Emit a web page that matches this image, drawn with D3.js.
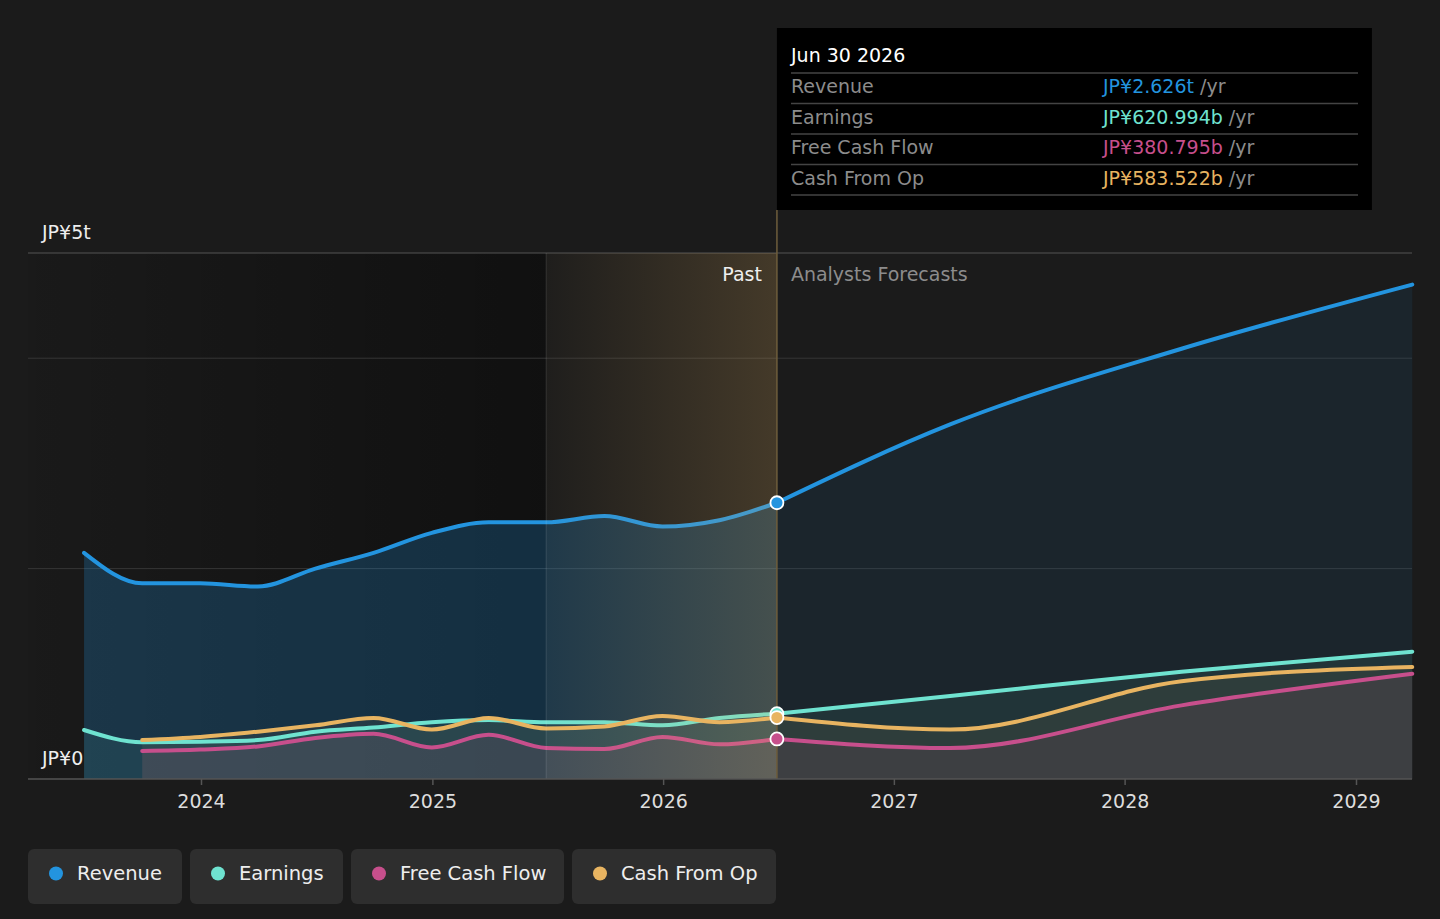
<!DOCTYPE html>
<html>
<head>
<meta charset="utf-8">
<script src="https://cdn.jsdelivr.net/npm/d3@7"></script>
<style>
  html, body { margin: 0; padding: 0; background: #1b1b1b; }
  svg { display: block; font-family: "DejaVu Sans", sans-serif; }
</style>
</head>
<body>
<div id="vis"></div>
<script>
// quarter ends for reported figures, year ends (Mar) for forecasts
var pastDates = ["2023-06-30", "2023-09-30", "2023-12-31", "2024-03-31", "2024-06-30", "2024-09-30",
                 "2024-12-31", "2025-03-31", "2025-06-30", "2025-09-30", "2025-12-31", "2026-03-31", "2026-06-30"];
var forecastDates = ["2026-06-30", "2027-03-31", "2028-03-31", "2029-03-31"];

// values in JP¥ trillions
var revenuePast = [2.15, 1.86, 1.86, 1.83, 2.00, 2.15, 2.34, 2.44, 2.44, 2.50, 2.40, 2.46, 2.626];
var revenueForecast = [2.626, 3.37, 4.09, 4.70];
var earningsPast = [0.466, 0.35, 0.355, 0.37, 0.45, 0.49, 0.54, 0.56, 0.54, 0.54, 0.51, 0.58, 0.621];
var earningsForecast = [0.621, 0.79, 1.02, 1.21];
// free cash flow / cash from op start one quarter later
var fcfPast = [0.266, 0.28, 0.31, 0.39, 0.43, 0.30, 0.42, 0.295, 0.285, 0.40, 0.33, 0.381];
var fcfForecast = [0.381, 0.295, 0.70, 1.0];
var cfoPast = [0.37, 0.40, 0.45, 0.51, 0.58, 0.47, 0.58, 0.48, 0.50, 0.60, 0.54, 0.584];
var cfoForecast = [0.584, 0.47, 0.93, 1.065];

var yearTicks = ["2024", "2025", "2026", "2027", "2028", "2029"];
var gridValues = [2, 4, 5];

var seriesNames = ["Revenue", "Earnings", "Free Cash Flow", "Cash From Op"];
var seriesColors = ["#2394df", "#6fe3d0", "#c74f8c", "#e8b461"];
var tooltipDate = "Jun 30 2026";
var tooltipValues = ["JP¥2.626t", "JP¥620.994b", "JP¥380.795b", "JP¥583.522b"];

var w = 1440, h = 919;
var plotLeft = 28, plotRight = 1412, plotTop = 253, plotBottom = 779;
var parse = d3.utcParse("%Y-%m-%d");

var x = d3.scaleUtc()
    .domain([parse("2024-01-01"), parse("2029-01-01")])
    .range([201, 1356]);
var y = d3.scaleLinear().domain([0, 5]).range([plotBottom, plotTop]);

var xPastStart = x(parse("2025-06-30"));
var xNow = x(parse("2026-06-30"));

function pairs(dates, vals) {
    var off = dates.length - vals.length;
    return vals.map(function(v, i) { return { d: parse(dates[i + off]), v: v }; });
}

var series = [
    { past: pairs(pastDates, revenuePast), fc: pairs(forecastDates, revenueForecast) },
    { past: pairs(pastDates, earningsPast), fc: pairs(forecastDates, earningsForecast) },
    { past: pairs(pastDates, fcfPast), fc: pairs(forecastDates, fcfForecast) },
    { past: pairs(pastDates, cfoPast), fc: pairs(forecastDates, cfoForecast) }
];

var svg = d3.select("#vis").append("svg").attr("width", w).attr("height", h);
var defs = svg.append("defs");

// darker past background
var gPast = defs.append("linearGradient").attr("id", "pastBg");
gPast.append("stop").attr("offset", "0%").attr("stop-color", "#000").attr("stop-opacity", 0.05);
gPast.append("stop").attr("offset", "100%").attr("stop-color", "#000").attr("stop-opacity", 0.4);

var gBand = defs.append("linearGradient").attr("id", "band");
gBand.append("stop").attr("offset", "0%").attr("stop-color", "#e8b461").attr("stop-opacity", 0.02);
gBand.append("stop").attr("offset", "100%").attr("stop-color", "#e8b461").attr("stop-opacity", 0.2);

svg.append("rect")
    .attr("x", plotLeft).attr("y", plotTop)
    .attr("width", xPastStart - plotLeft).attr("height", plotBottom - plotTop)
    .attr("fill", "url(#pastBg)");

// grid
svg.selectAll("line.grid")
    .data(gridValues)
    .enter()
    .append("line")
    .attr("x1", plotLeft).attr("x2", plotRight)
    .attr("y1", function(d) { return y(d); })
    .attr("y2", function(d) { return y(d); })
    .attr("stroke", function(d) { return d == 5 ? "#555" : "#363636"; })
    .attr("stroke-width", 1);

// areas
var fillOp = [[0.24, 0.09], [0.08, 0.08], [0.11, 0.1], [0.07, 0.07]];
var area = d3.area()
    .curve(d3.curveMonotoneX)
    .x(function(p) { return x(p.d); })
    .y0(plotBottom)
    .y1(function(p) { return y(p.v); });
var line = d3.line()
    .curve(d3.curveMonotoneX)
    .x(function(p) { return x(p.d); })
    .y(function(p) { return y(p.v); });

series.forEach(function(s, i) {
    svg.append("path").attr("d", area(s.past))
        .attr("fill", seriesColors[i]).attr("fill-opacity", fillOp[i][0]);
    svg.append("path").attr("d", area(s.fc))
        .attr("fill", seriesColors[i]).attr("fill-opacity", fillOp[i][1]);
});

// lines
[1, 2, 3, 0].forEach(function(i) {
    var s = series[i];
    [s.past, s.fc].forEach(function(pts) {
        svg.append("path").attr("d", line(pts))
            .attr("fill", "none")
            .attr("stroke", seriesColors[i])
            .attr("stroke-width", 4)
            .attr("stroke-linecap", "round");
    });
});

// highlight band over the last past year
svg.append("rect")
    .attr("x", xPastStart).attr("y", plotTop)
    .attr("width", xNow - xPastStart).attr("height", plotBottom - plotTop)
    .attr("fill", "url(#band)");
svg.append("line")
    .attr("x1", xPastStart).attr("x2", xPastStart)
    .attr("y1", plotTop).attr("y2", plotBottom)
    .attr("stroke", "#fff").attr("stroke-opacity", 0.12);
svg.append("line")
    .attr("x1", xNow).attr("x2", xNow)
    .attr("y1", 210).attr("y2", plotBottom)
    .attr("stroke", "#6e5d3c").attr("stroke-width", 1.5);

svg.append("text").text("Past")
    .attr("x", xNow - 15).attr("y", 281)
    .attr("text-anchor", "end").attr("font-size", 19).attr("fill", "#eee");
svg.append("text").text("Analysts Forecasts")
    .attr("x", xNow + 14).attr("y", 281)
    .attr("font-size", 19).attr("fill", "#8c8c8c");

// markers
[0, 1, 2, 3].forEach(function(i) {
    var p = series[i].fc[0];
    svg.append("circle")
        .attr("cx", x(p.d)).attr("cy", y(p.v)).attr("r", 6.5)
        .attr("fill", seriesColors[i])
        .attr("stroke", "#fff").attr("stroke-width", 1.8);
});

// axis
svg.append("line")
    .attr("x1", plotLeft).attr("x2", plotRight)
    .attr("y1", plotBottom).attr("y2", plotBottom)
    .attr("stroke", "#555").attr("stroke-width", 1.5);

var xAxis = d3.axisBottom(x)
    .tickValues(yearTicks.map(function(t) { return parse(t + "-01-01"); }))
    .tickFormat(d3.utcFormat("%Y"))
    .tickSize(6)
    .tickPadding(10);
var gx = svg.append("g").attr("transform", "translate(0," + plotBottom + ")").call(xAxis);
gx.select(".domain").remove();
gx.selectAll("line").attr("stroke", "#555").attr("stroke-width", 1.5);
gx.selectAll("text").attr("fill", "#ddd").attr("font-size", 19)
    .attr("font-family", "DejaVu Sans, sans-serif");

svg.append("text").text("JP¥5t")
    .attr("x", 42).attr("y", 239).attr("font-size", 19).attr("fill", "#eee");
svg.append("text").text("JP¥0")
    .attr("x", 42).attr("y", 765).attr("font-size", 19).attr("fill", "#eee");

// tooltip
var tip = svg.append("g");
tip.append("rect")
    .attr("x", xNow).attr("y", 28).attr("width", 595).attr("height", 182)
    .attr("fill", "#000");
tip.append("text").text(tooltipDate)
    .attr("x", 791).attr("y", 62).attr("font-size", 19).attr("fill", "#fff");
var rowY = d3.scaleLinear().domain([0, 1]).range([73, 103.5]);
seriesNames.forEach(function(name, i) {
    tip.append("line")
        .attr("x1", 791).attr("x2", 1358)
        .attr("y1", rowY(i)).attr("y2", rowY(i))
        .attr("stroke", "#444").attr("stroke-width", 1.5);
    tip.append("text").text(name)
        .attr("x", 791).attr("y", rowY(i) + 20)
        .attr("font-size", 19).attr("fill", "#8c8c8c");
    var t = tip.append("text")
        .attr("x", 1103).attr("y", rowY(i) + 20)
        .attr("font-size", 19);
    t.append("tspan").text(tooltipValues[i]).attr("fill", seriesColors[i]);
    t.append("tspan").text(" /yr").attr("fill", "#8c8c8c");
});
tip.append("line")
    .attr("x1", 791).attr("x2", 1358)
    .attr("y1", rowY(4)).attr("y2", rowY(4))
    .attr("stroke", "#444").attr("stroke-width", 1.5);

// legend
var legendX = [28, 190, 351, 572];
var legendW = [154, 153, 213, 204];
seriesNames.forEach(function(name, i) {
    var g = svg.append("g").attr("transform", "translate(" + legendX[i] + ",849)");
    g.append("rect").attr("width", legendW[i]).attr("height", 55).attr("rx", 6)
        .attr("fill", "#2e2e2e");
    g.append("circle").attr("cx", 28).attr("cy", 24.5).attr("r", 7)
        .attr("fill", seriesColors[i]);
    g.append("text").text(name)
        .attr("x", 49).attr("y", 31).attr("font-size", 19.5).attr("fill", "#eee");
});
</script>
</body>
</html>
